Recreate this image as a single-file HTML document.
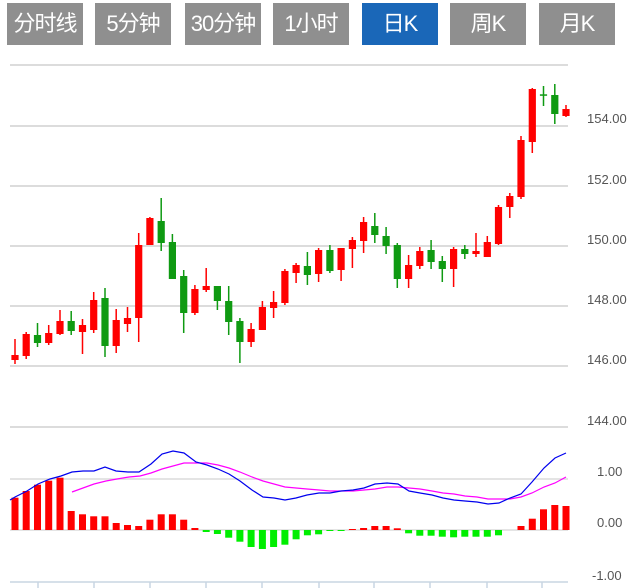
<!DOCTYPE html>
<html><head><meta charset="utf-8"><style>
html,body{margin:0;padding:0;background:#fff;width:630px;height:588px;overflow:hidden}
.b{position:absolute;top:3px;height:42px;width:76px;background:#8f8f8f;color:#fff;font:22px "Liberation Sans","Noto Sans CJK SC",sans-serif;line-height:42px;text-align:center;white-space:nowrap;letter-spacing:-1px}
</style></head><body>
<div class="b" style="left:7px">分时线</div>
<div class="b" style="left:95px">5分钟</div>
<div class="b" style="left:185px;width:76px">30分钟</div>
<div class="b" style="left:273px">1小时</div>
<div class="b" style="left:362px;background:#1a67b8">日K</div>
<div class="b" style="left:450px">周K</div>
<div class="b" style="left:539px">月K</div>
<svg width="630" height="588" style="position:absolute;left:0;top:0" xmlns="http://www.w3.org/2000/svg">
<g stroke="#dcdcdc" stroke-width="2">
<line x1="10" x2="568" y1="65" y2="65"/><line x1="10" x2="568" y1="126" y2="126"/><line x1="10" x2="568" y1="186" y2="186"/><line x1="10" x2="568" y1="246" y2="246"/><line x1="10" x2="568" y1="306" y2="306"/><line x1="10" x2="568" y1="366" y2="366"/><line x1="10" x2="568" y1="427" y2="427"/>
<line x1="10" x2="568" y1="479" y2="479" stroke-width="1.5"/><line x1="10" x2="568" y1="530" y2="530" stroke-width="1.5"/>
</g>
<g stroke="#c9d5e2" stroke-width="1.5">
<line x1="10" x2="568" y1="582" y2="582"/>
<line x1="38" x2="38" y1="582" y2="588"/><line x1="94" x2="94" y1="582" y2="588"/><line x1="150" x2="150" y1="582" y2="588"/><line x1="206" x2="206" y1="582" y2="588"/><line x1="262" x2="262" y1="582" y2="588"/><line x1="319" x2="319" y1="582" y2="588"/><line x1="374" x2="374" y1="582" y2="588"/><line x1="430" x2="430" y1="582" y2="588"/><line x1="487" x2="487" y1="582" y2="588"/><line x1="542" x2="542" y1="582" y2="588"/>
</g>
<g font-family="Liberation Sans,sans-serif" font-size="13" fill="#555">
<text x="587" y="123">154.00</text><text x="587" y="184">152.00</text><text x="587" y="244">150.00</text><text x="587" y="304">148.00</text><text x="587" y="364">146.00</text><text x="587" y="425">144.00</text>
<text x="597" y="476">1.00</text><text x="597" y="527">0.00</text><text x="592" y="580">-1.00</text>
</g>
<path fill="none" stroke="#ff0000" stroke-width="1.5" d="M15 339V364 M26.2 332V359 M48.7 325V345 M60 310V335 M82.5 319V354 M93.7 292V333 M116.2 309V353 M127.5 307V332 M138.7 233V342 M149.9 217V245 M194.9 285V315 M206.2 268V292 M251.1 323V347 M262.4 301V330 M273.6 291V318 M284.9 269V305 M296.1 263V283 M318.6 248V282 M341.1 248V281 M352.4 237V268 M363.6 217V253 M408.6 255V288 M419.8 247V269 M453.6 247V287 M476 233V257 M487.3 236V257 M498.5 205V245 M509.8 193V218 M521 136V199 M532.3 88V153 M566 105V117"/>
<path fill="none" stroke="#0f9a12" stroke-width="1.5" d="M37.5 323V347 M71.2 311V335 M105 288V357 M161.2 198V251 M172.4 234V279 M183.7 270V333 M217.4 286V310 M228.7 286V335 M239.9 318V363 M307.4 252V285 M329.9 245V273 M374.8 213V243 M386.1 227V254 M397.3 243V288 M431.1 240V269 M442.3 256V282 M464.8 245V259 M543.5 86V106 M554.8 84V124"/>
<g fill="#ff0000">
<rect x="11.4" y="355" width="7.2" height="5"/><rect x="22.6" y="334" width="7.2" height="22"/><rect x="45.1" y="333" width="7.2" height="10"/><rect x="56.4" y="321" width="7.2" height="13"/><rect x="78.9" y="325" width="7.2" height="7"/><rect x="90.1" y="300" width="7.2" height="30"/><rect x="112.6" y="320" width="7.2" height="26"/><rect x="123.9" y="318" width="7.2" height="6"/><rect x="135.1" y="245" width="7.2" height="73"/><rect x="146.3" y="218" width="7.2" height="27"/><rect x="191.3" y="289" width="7.2" height="24"/><rect x="202.6" y="286" width="7.2" height="4"/><rect x="247.5" y="329" width="7.2" height="13"/><rect x="258.8" y="307" width="7.2" height="23"/><rect x="270" y="302" width="7.2" height="6"/><rect x="281.3" y="271" width="7.2" height="32"/><rect x="292.5" y="265" width="7.2" height="8"/><rect x="315" y="250" width="7.2" height="24"/><rect x="337.5" y="248" width="7.2" height="22"/><rect x="348.8" y="240" width="7.2" height="9"/><rect x="360" y="222" width="7.2" height="19"/><rect x="405" y="265" width="7.2" height="14"/><rect x="416.2" y="251" width="7.2" height="15"/><rect x="450" y="249" width="7.2" height="20"/><rect x="472.4" y="251" width="7.2" height="3"/><rect x="483.7" y="242" width="7.2" height="15"/><rect x="494.9" y="207" width="7.2" height="37"/><rect x="506.2" y="196" width="7.2" height="11"/><rect x="517.4" y="140" width="7.2" height="57"/><rect x="528.7" y="89" width="7.2" height="53"/><rect x="562.4" y="109" width="7.2" height="7"/>
</g>
<g fill="#0f9a12">
<rect x="33.9" y="335" width="7.2" height="8"/><rect x="67.6" y="321" width="7.2" height="10"/><rect x="101.4" y="298" width="7.2" height="48"/><rect x="157.6" y="221" width="7.2" height="22"/><rect x="168.8" y="242" width="7.2" height="37"/><rect x="180.1" y="276" width="7.2" height="37"/><rect x="213.8" y="286" width="7.2" height="15"/><rect x="225.1" y="301" width="7.2" height="21"/><rect x="236.3" y="321" width="7.2" height="21"/><rect x="303.8" y="266" width="7.2" height="9"/><rect x="326.3" y="250" width="7.2" height="21"/><rect x="371.2" y="226" width="7.2" height="9"/><rect x="382.5" y="236" width="7.2" height="10"/><rect x="393.7" y="245" width="7.2" height="34"/><rect x="427.5" y="250" width="7.2" height="12"/><rect x="438.7" y="261" width="7.2" height="8"/><rect x="461.2" y="249" width="7.2" height="5"/><rect x="539.9" y="94.3" width="7.2" height="1.5"/><rect x="551.2" y="95" width="7.2" height="19"/>
</g>
<g fill="#ff0000">
<rect x="11.5" y="497.7" width="7" height="32.3"/><rect x="22.7" y="491" width="7" height="39"/><rect x="34" y="484.7" width="7" height="45.3"/><rect x="45.2" y="480.7" width="7" height="49.3"/><rect x="56.5" y="477.7" width="7" height="52.3"/><rect x="67.7" y="511" width="7" height="19"/><rect x="79" y="514.3" width="7" height="15.7"/><rect x="90.2" y="516.3" width="7" height="13.7"/><rect x="101.5" y="516.3" width="7" height="13.7"/><rect x="112.7" y="523" width="7" height="7"/><rect x="124" y="525" width="7" height="5"/><rect x="135.2" y="526" width="7" height="4"/><rect x="146.4" y="519.7" width="7" height="10.3"/><rect x="157.7" y="514.3" width="7" height="15.7"/><rect x="168.9" y="514.3" width="7" height="15.7"/><rect x="180.2" y="519.7" width="7" height="10.3"/><rect x="191.4" y="528" width="7" height="2"/><rect x="348.9" y="529" width="7" height="1"/><rect x="360.1" y="528" width="7" height="2"/><rect x="371.3" y="526" width="7" height="4"/><rect x="382.6" y="526" width="7" height="4"/><rect x="393.8" y="528.3" width="7" height="1.7"/><rect x="517.5" y="526" width="7" height="4"/><rect x="528.8" y="518.7" width="7" height="11.3"/><rect x="540" y="509.3" width="7" height="20.7"/><rect x="551.3" y="505" width="7" height="25"/><rect x="562.5" y="506" width="7" height="24"/>
</g>
<g fill="#00ee00">
<rect x="202.7" y="530" width="7" height="2"/><rect x="213.9" y="530" width="7" height="4"/><rect x="225.2" y="530" width="7" height="7.7"/><rect x="236.4" y="530" width="7" height="11.7"/><rect x="247.6" y="530" width="7" height="17"/><rect x="258.9" y="530" width="7" height="19"/><rect x="270.1" y="530" width="7" height="17"/><rect x="281.4" y="530" width="7" height="14.7"/><rect x="292.6" y="530" width="7" height="9.3"/><rect x="303.9" y="530" width="7" height="5.3"/><rect x="315.1" y="530" width="7" height="4.3"/><rect x="326.4" y="530" width="7" height="1"/><rect x="337.6" y="530" width="7" height="1"/><rect x="405.1" y="530" width="7" height="3.3"/><rect x="416.3" y="530" width="7" height="5.7"/><rect x="427.6" y="530" width="7" height="5.7"/><rect x="438.8" y="530" width="7" height="6.7"/><rect x="450.1" y="530" width="7" height="7.3"/><rect x="461.3" y="530" width="7" height="6.7"/><rect x="472.5" y="530" width="7" height="6.7"/><rect x="483.8" y="530" width="7" height="6.7"/><rect x="495" y="530" width="7" height="5.3"/>
</g>
<polyline fill="none" stroke="#ff00ff" stroke-width="1.2" points="72,492 83,488 94,484 106,481 117,479 129,477 140,476 151,473 162,469 173,466 184,463 196,463 207,463 218,465 229,468 240,472 252,477 263,481 274,484 285,487 296,488 307,489 319,490 330,491 341,491 353,491 364,490 375,489 387,487 398,487 409,488 420,489 432,491 443,493 454,494 465,496 477,497 488,499 499,499 510,499 521,497 532,493 544,487 555,483 566,477"/>
<polyline fill="none" stroke="#0000ee" stroke-width="1.2" points="10,500 15,497 27,491 38,484 50,479 61,476 72,472 83,471 94,471 105,467 116,471 128,472 139,472 151,464 162,454 173,451 184,453 196,462 207,465 218,469 229,474 240,481 252,490 263,497 274,498 285,500 296,498 307,495 319,493 330,493 341,491 353,490 364,488 375,484 387,483 398,484 409,491 420,493 432,495 443,498 454,500 465,501 477,502 488,504 499,503 510,498 521,494 532,482 544,468 555,458 566,453"/>
</svg>
</body></html>
